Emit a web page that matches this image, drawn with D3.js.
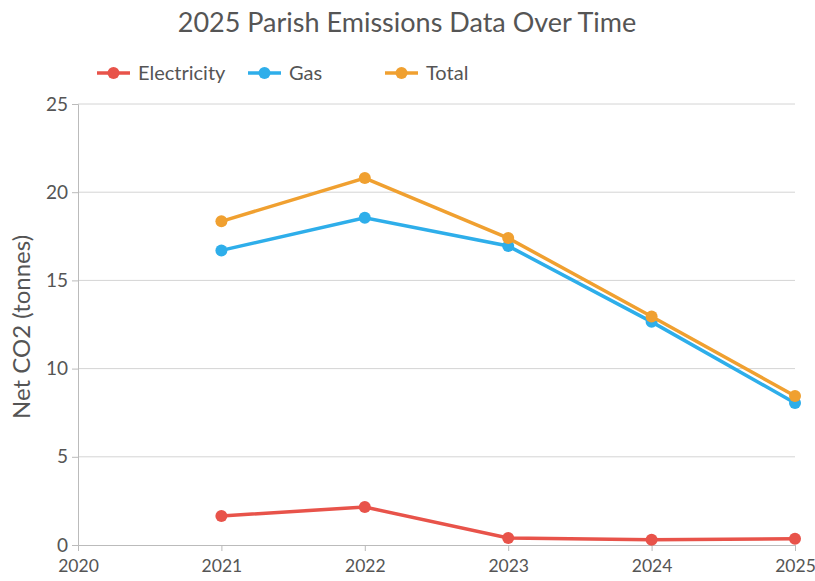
<!DOCTYPE html>
<html>
<head>
<meta charset="utf-8">
<script src="https://cdn.jsdelivr.net/npm/d3@7"></script>
<style>
  body { margin: 0; background: #fff; }
  text { font-family: Lato, "Open Sans", sans-serif; fill: #555; }
</style>
</head>
<body>
<div class="graphHere"></div>
<script>
var years = [2020, 2021, 2022, 2023, 2024, 2025];
var dataYears = [2021, 2022, 2023, 2024, 2025];
var electricity = [1.65, 2.15, 0.4, 0.3, 0.35];
var gas = [16.7, 18.55, 16.95, 12.65, 8.05];
var total = [18.35, 20.8, 17.4, 12.95, 8.45];
var yTicks = [0, 5, 10, 15, 20, 25];

var seriesList = [
  {name: "Electricity", values: electricity, color: "#e8534a"},
  {name: "Gas", values: gas, color: "#2eaeea"},
  {name: "Total", values: total, color: "#f0a030"}
];

var dims = {width: 815, height: 581};
var margin = {left: 78, right: 20, top: 104, bottom: 36};

var svg = d3.select(".graphHere").append("svg")
  .attr("width", dims.width)
  .attr("height", dims.height);

var x = d3.scaleLinear()
  .domain([2020, 2025])
  .range([margin.left, dims.width - margin.right]);

var y = d3.scaleLinear()
  .domain([0, 25])
  .range([dims.height - margin.bottom, margin.top]);

// gridlines
svg.append("g").selectAll("line")
  .data(yTicks.slice(1))
  .enter().append("line")
    .attr("x1", x(2020))
    .attr("x2", x(2025))
    .attr("y1", function(d){ return y(d); })
    .attr("y2", function(d){ return y(d); })
    .attr("stroke", "#d4d4d4")
    .attr("stroke-width", 1);

// y axis
var yAxis = svg.append("g")
  .attr("transform", "translate(" + margin.left + ",0)")
  .call(d3.axisLeft(y).tickValues(yTicks).tickSize(6).tickPadding(4));
yAxis.select(".domain").attr("stroke", "#bbb");
yAxis.selectAll(".tick line").attr("stroke", "#bbb");
yAxis.selectAll("text").style("font-size", "19px").attr("fill", "#555");

// x axis
var xAxis = svg.append("g")
  .attr("transform", "translate(0," + y(0) + ")")
  .call(d3.axisBottom(x).tickValues(years).tickFormat(d3.format("d")).tickSize(6).tickPadding(9));
xAxis.select(".domain").attr("stroke", "#bbb");
xAxis.selectAll(".tick line").attr("stroke", "#bbb");
xAxis.selectAll("text").style("font-size", "17.5px").attr("fill", "#555");

// lines
var line = d3.line()
  .x(function(d, i){ return x(dataYears[i]); })
  .y(function(d){ return y(d); });

seriesList.forEach(function(s){
  var g = svg.append("g");
  g.append("path")
    .attr("d", line(s.values))
    .attr("fill", "none")
    .attr("stroke", s.color)
    .attr("stroke-width", 3.5);
  g.selectAll("circle")
    .data(s.values)
    .enter().append("circle")
      .attr("cx", function(d, i){ return x(dataYears[i]); })
      .attr("cy", function(d){ return y(d); })
      .attr("r", 6)
      .attr("fill", s.color);
});

// title
svg.append("text")
  .attr("x", 407)
  .attr("y", 32)
  .attr("text-anchor", "middle")
  .style("font-size", "27px")
  .text("2025 Parish Emissions Data Over Time");

// y label
svg.append("text")
  .attr("transform", "translate(30,327) rotate(-90)")
  .attr("text-anchor", "middle")
  .style("font-size", "24px")
  .text("Net CO2 (tonnes)");

// legend
var legendX = [97, 248, 385];
seriesList.forEach(function(s, i){
  var lg = svg.append("g").attr("transform", "translate(" + legendX[i] + ",73)");
  lg.append("line")
    .attr("x1", 0).attr("x2", 33)
    .attr("stroke", s.color).attr("stroke-width", 3.5);
  lg.append("circle")
    .attr("cx", 16.5).attr("r", 6).attr("fill", s.color);
  lg.append("text")
    .attr("x", 41).attr("y", 7)
    .style("font-size", "20px")
    .text(s.name);
});
</script>
</body>
</html>
